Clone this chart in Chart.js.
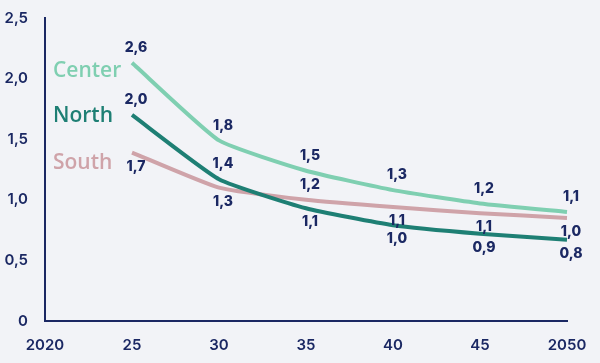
<!DOCTYPE html>
<html>
<head>
<meta charset="utf-8">
<script src="https://cdn.jsdelivr.net/npm/chart.js@4.4.0/dist/chart.umd.min.js"></script>
<style>
  html, body { margin: 0; padding: 0; background: #f2f3f7; }
  #chart { width: 600px; height: 363px; }
</style>
</head>
<body>
<div id="chart"><canvas id="graph"></canvas></div>
<script>
// categories on the x axis
const years = ['2020', '25', '30', '35', '40', '45', '2050'];
const yTicks = [0, 0.5, 1.0, 1.5, 2.0, 2.5];

// plotted values
const center = [null, 2.13, 1.49, 1.24, 1.08, 0.97, 0.90];
const north  = [null, 1.70, 1.17, 0.93, 0.79, 0.72, 0.67];
const south  = [null, 1.39, 1.10, 1.00, 0.94, 0.89, 0.85];

// printed value labels
const centerLabels = [null, '2,6', '1,8', '1,5', '1,3', '1,2', '1,1'];
const northLabels  = [null, '2,0', '1,4', '1,1', '1,0', '0,9', '0,8'];
const southLabels  = [null, '1,7', '1,3', '1,2', '1,1', '1,1', '1,0'];

const seriesNames = ['Center', 'North', 'South'];
const colors = ['#7fcfb1', '#1e7f74', '#cfa3a9'];
const navy = '#1b2863';

// label placement: a = above the point, b = below
const labelPos = [
  [null, 'a', 'a', 'a', 'a', 'a', 'a'],
  [null, 'a', 'a', 'b', 'b', 'b', 'b'],
  [null, 'b', 'b', 'a', 'b', 'b', 'b']
];
const labelSets = [centerLabels, northLabels, southLabels];
const nameDy = [8, 1, 10];

const labelPlugin = {
  id: 'valueLabels',
  afterDatasetsDraw(chart) {
    const ctx = chart.ctx;
    ctx.save();
    chart.data.datasets.forEach((ds, di) => {
      const meta = chart.getDatasetMeta(di);
      meta.data.forEach((pt, i) => {
        const txt = labelSets[di][i];
        if (!txt || pt.skip) return;
        const pos = labelPos[di][i];
        ctx.font = '800 14px Inter, sans-serif';
        ctx.fillStyle = navy;
        ctx.textAlign = 'center';
        ctx.textBaseline = 'middle';
        const dy = pos === 'a' ? -15 : 14;
        ctx.fillText(txt, pt.x + 4, pt.y + dy);
      });
      // series name left of the first point
      const first = meta.data.find(p => !p.skip);
      ctx.font = '600 21px "Open Sans", "Noto Sans", sans-serif';
      ctx.fillStyle = colors[di];
      ctx.textAlign = 'left';
      ctx.textBaseline = 'middle';
      ctx.fillText(seriesNames[di], 53, first.y + nameDy[di]);
    });
    ctx.restore();
  }
};

const tickFont = { family: 'Inter, sans-serif', size: 15, weight: '600' };

new Chart(document.getElementById('graph'), {
  type: 'line',
  data: {
    labels: years,
    datasets: [center, north, south].map((d, i) => ({
      label: seriesNames[i],
      data: d,
      borderColor: colors[i],
      borderWidth: 4,
      pointRadius: 0,
      tension: 0.15,
      fill: false
    }))
  },
  options: {
    responsive: true,
    maintainAspectRatio: false,
    animation: false,
    layout: { padding: { left: 0, right: 33, top: 17, bottom: 0 } },
    plugins: { legend: { display: false }, tooltip: { enabled: false } },
    scales: {
      x: {
        offset: false,
        grid: { display: false },
        border: { display: true, color: navy, width: 2 },
        ticks: { color: navy, font: tickFont, maxRotation: 0, padding: 7 },
        afterFit(s) { s.height = 42; }
      },
      y: {
        min: 0,
        max: 2.5,
        afterBuildTicks(s) { s.ticks = yTicks.map(v => ({ value: v })); },
        grid: { display: false },
        border: { display: true, color: navy, width: 2 },
        ticks: {
          color: navy,
          font: tickFont,
          padding: 9,
          callback: v => v === 0 ? '0' : v.toFixed(1).replace('.', ',')
        },
        afterFit(s) { s.width = 45; }
      }
    }
  },
  plugins: [labelPlugin]
});
</script>
</body>
</html>
